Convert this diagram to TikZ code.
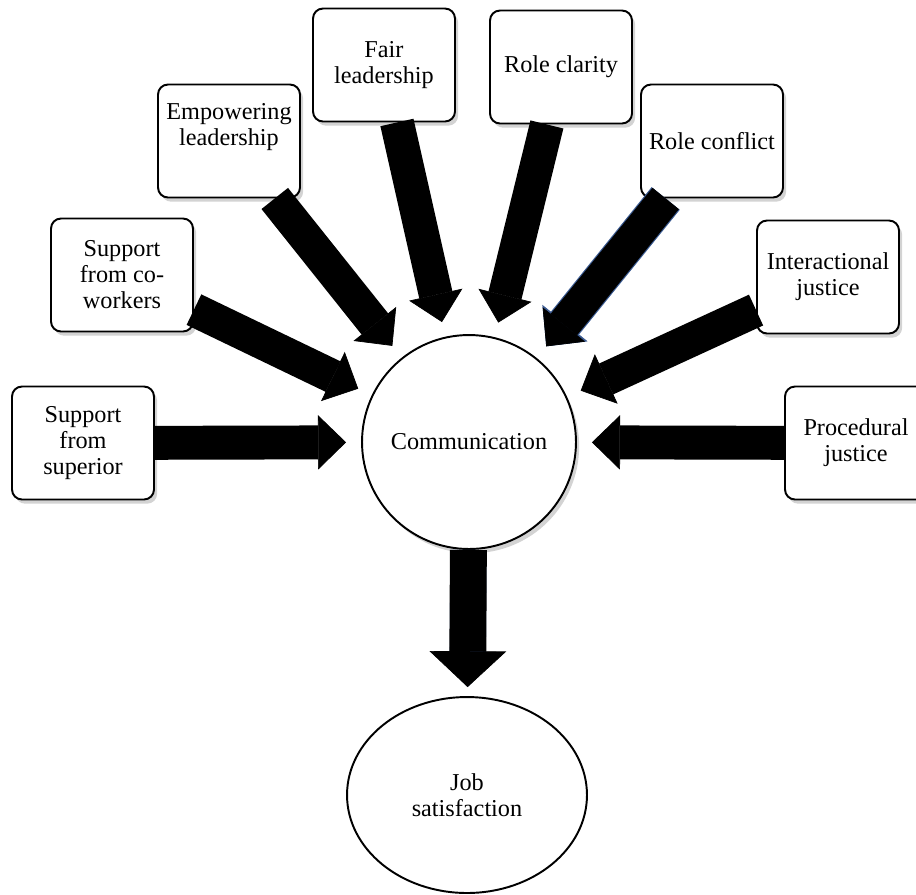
\documentclass[tikz,border=0pt]{standalone}
\usepackage{fontspec}
\setmainfont{Liberation Serif}
\usetikzlibrary{arrows.meta,shapes.geometric,shadows}

\definecolor{rim}{RGB}{58,90,145}

\begin{document}
\begin{tikzpicture}[x=0.02cm, y=-0.02cm,
  font=\fontsize{13.8}{14.8}\selectfont,
  soft/.style={drop shadow={opacity=0.35, shadow xshift=1.8pt, shadow yshift=-2.4pt}},
  factor/.style={draw, line width=1.1pt, rounded corners=0.2cm, fill=white, align=center,
    minimum width=2.84cm, minimum height=2.26cm, inner sep=2pt, soft},
  hub/.style={draw, circle, line width=1.1pt, fill=white, minimum size=4.28cm, inner sep=0pt, soft},
  goal/.style={draw, ellipse, line width=1.1pt, fill=white, align=center,
    minimum width=4.8cm, minimum height=3.92cm, inner sep=0pt},
  fat/.style={line width=19.3pt, -{Triangle[width=31pt, length=16pt, line width=0.4pt]}, shorten >=0.3cm},
  rimmed/.style={preaction={draw=rim, line width=20.6pt, -{Triangle[width=33pt, length=17pt, line width=0.4pt]}}}
]

\path [use as bounding box] (0,0) rectangle (916,894);

% FACTORS
\node [factor] (sup) at (83,443) {Support\\from\\superior};
\node [factor] (cowork) at (122,275) {Support\\from co-\\workers};
\node [factor] (empower) at (229,141) {Empowering\\leadership\\\strut};
\node [factor] (fair) at (384,65) {Fair\\leadership};
\node [factor] (clarity) at (561,67) {Role clarity};
\node [factor] (conflict) at (712,141) {Role conflict};
\node [factor] (inter) at (828,277) {Interactional\\justice};
\node [factor] (proc) at (856,443) {Procedural\\justice};

% CENTRE
\node [hub] (comm) at (469,442) {Communication};
\node [goal] (job) at (467,795) {Job\\satisfaction};

% ARROWS
\draw [fat] (sup) -- (comm);
\draw [fat] (cowork) -- (comm);
\draw [fat] (empower) -- (comm);
\draw [fat] (fair) -- (comm);
\draw [fat] (clarity) -- (comm);
\draw [fat, rimmed] (conflict) -- (comm);
\draw [fat] (inter) -- (comm);
\draw [fat] (proc) -- (comm);
\draw [rimmed, preaction={-{Triangle[width=46pt, length=21.5pt, line width=0.4pt]}, line width=22.3pt, shorten >=0.18cm},
  line width=21pt, -{Triangle[width=43.7pt, length=20.4pt, line width=0.4pt]}, shorten >=0.18cm] (comm) -- (job);

\end{tikzpicture}
\end{document}
